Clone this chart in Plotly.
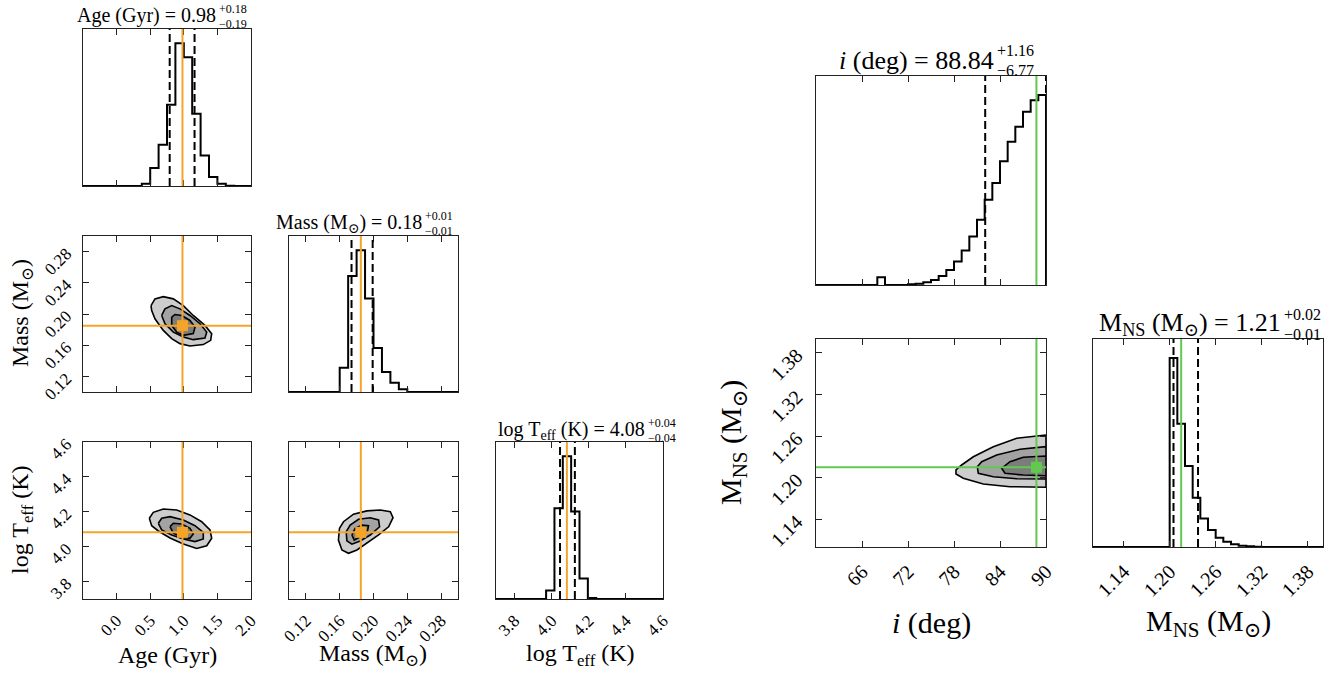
import numpy as np
import plotly.graph_objects as go

W, H = 1335, 675
FONT = "Liberation Serif, DejaVu Serif, serif"
ORANGE = "#f5a42a"
GREEN = "#62c94f"
FILLS = ["#cdcdcd", "#a3a3a3", "#7c7c7c"]

# ---------------- data ----------------
age_range = [-0.5, 2.0]
mass_range = [0.10, 0.30]
logt_range = [3.7, 4.6]
inc_range = [60.0, 90.0]
mns_range = [1.10, 1.40]

age_ticks = [0.0, 0.5, 1.0, 1.5, 2.0]
age_ticklabels = ["0.0", "0.5", "1.0", "1.5", "2.0"]
mass_ticks = [0.12, 0.16, 0.20, 0.24, 0.28]
mass_ticklabels = ["0.12", "0.16", "0.20", "0.24", "0.28"]
logt_ticks = [3.8, 4.0, 4.2, 4.4, 4.6]
logt_ticklabels = ["3.8", "4.0", "4.2", "4.4", "4.6"]
inc_ticks = [66, 72, 78, 84, 90]
inc_ticklabels = ["66", "72", "78", "84", "90"]
mns_ticks = [1.14, 1.20, 1.26, 1.32, 1.38]
mns_ticklabels = ["1.14", "1.20", "1.26", "1.32", "1.38"]

# histogram heights (20 / 30 equal bins across each axis range)
age_counts = [0, 0, 0, 0, 0, 0, 0, 7, 54, 124, 244, 429, 387, 217, 92, 27, 7, 1, 0, 0]
mass_counts = [0, 0, 0, 0, 0, 0, 73, 350, 428, 282, 133, 60, 28, 8, 0, 0, 0, 0, 0, 0]
logt_counts = [0, 0, 0, 0, 0, 0, 25, 271, 426, 261, 61, 3, 0, 0, 0, 0, 0, 0, 0, 0]
inc_counts = [0, 0, 0, 0, 0, 0, 0, 0, 23, 0, 0, 0, 2, 4, 8, 15, 27, 45, 70, 103,
              145, 195, 255, 305, 370, 428, 473, 518, 552, 568]
mns_counts = [0, 0, 0, 0, 0, 0, 0, 0, 0, 0, 569, 371, 244, 148, 86, 51, 28, 16, 8, 4,
              2, 1, 0, 0, 0, 0, 0, 0, 0, 0]

# quantiles (16%, 84%) and truth / median values
age_q = [0.79, 1.16]
mass_q = [0.174, 0.199]
logt_q = [4.045, 4.125]
inc_q = [82.07, 90.0]
mns_q = [1.205, 1.237]
age_truth = 0.98
mass_truth = 0.185
logt_truth = 4.082
inc_truth = 88.75
mns_truth = 1.215

# contour outlines (outer, middle, inner)
am_age = [
    [0.512, 0.571, 0.695, 0.844, 0.993, 1.141, 1.315, 1.415, 1.400, 1.290, 1.092, 0.943, 0.820, 0.695, 0.571, 0.522],
    [0.671, 0.720, 0.820, 0.943, 1.092, 1.241, 1.341, 1.315, 1.141, 0.993, 0.844, 0.720],
    [0.820, 0.869, 0.969, 1.092, 1.167, 1.141, 0.993, 0.894, 0.820],
]
am_mass = [
    [0.2108, 0.2194, 0.2223, 0.2194, 0.2108, 0.1981, 0.1854, 0.1748, 0.1662, 0.1608, 0.1590, 0.1620, 0.1684, 0.1790, 0.1939, 0.2045],
    [0.1981, 0.2066, 0.2108, 0.2066, 0.1981, 0.1875, 0.1768, 0.1692, 0.1671, 0.1704, 0.1768, 0.1875],
    [0.1960, 0.1994, 0.1981, 0.1917, 0.1832, 0.1748, 0.1726, 0.1768, 0.1854],
]
at_age = [
    [0.487, 0.546, 0.695, 0.894, 1.092, 1.266, 1.390, 1.415, 1.341, 1.192, 0.993, 0.795, 0.621, 0.522],
    [0.621, 0.671, 0.795, 0.993, 1.167, 1.290, 1.290, 1.167, 0.993, 0.820, 0.671],
    [0.795, 0.844, 0.969, 1.092, 1.141, 1.092, 0.969, 0.844],
]
at_logt = [
    [4.163, 4.197, 4.216, 4.210, 4.182, 4.143, 4.096, 4.048, 4.005, 3.990, 4.015, 4.050, 4.090, 4.120],
    [4.134, 4.163, 4.172, 4.153, 4.120, 4.082, 4.044, 4.029, 4.044, 4.067, 4.096],
    [4.115, 4.134, 4.130, 4.105, 4.073, 4.048, 4.054, 4.077],
]
mt_mass = [
    [0.1597, 0.1645, 0.1763, 0.1922, 0.2080, 0.2199, 0.2231, 0.2179, 0.2060, 0.1922, 0.1804, 0.1704, 0.1626, 0.1585],
    [0.1677, 0.1724, 0.1823, 0.1961, 0.2060, 0.2072, 0.1961, 0.1843, 0.1744, 0.1685],
    [0.1744, 0.1783, 0.1863, 0.1941, 0.1929, 0.1843, 0.1772],
]
mt_logt = [
    [4.105, 4.143, 4.186, 4.205, 4.210, 4.200, 4.166, 4.114, 4.067, 4.019, 3.981, 3.962, 3.981, 4.038],
    [4.086, 4.124, 4.157, 4.166, 4.153, 4.114, 4.067, 4.033, 4.014, 4.033],
    [4.067, 4.105, 4.124, 4.120, 4.090, 4.057, 4.038],
]
im_inc = [
    [90.0, 86.18, 83.13, 80.52, 79.00, 78.26, 78.26, 79.21, 81.82, 85.30, 90.0],
    [90.0, 86.61, 83.57, 81.61, 81.04, 81.17, 83.13, 86.18, 90.0],
    [90.0, 87.04, 85.30, 84.22, 84.65, 87.04, 90.0],
]
im_mns = [
    [1.2615, 1.2568, 1.2447, 1.2302, 1.2183, 1.2111, 1.2053, 1.1991, 1.1909, 1.1870, 1.1861],
    [1.2447, 1.2409, 1.2327, 1.2230, 1.2158, 1.2063, 1.2014, 1.1985, 1.1981],
    [1.2312, 1.2294, 1.2230, 1.2135, 1.2063, 1.2038, 1.2028],
]

# ---------------- layout helpers ----------------
def fx(px):
    return px / W


def fy(py):
    return 1 - py / H


def sfx(n):
    return "" if n == 1 else str(n)


fig = go.Figure()
layout = dict(width=W, height=H, margin=dict(l=0, r=0, t=0, b=0, pad=0, autoexpand=False),
              paper_bgcolor="white", plot_bgcolor="white", showlegend=False)
shapes = []
annotations = []

AXC = "#222222"


def base_axis(tick_size):
    return dict(showline=True, linecolor=AXC, linewidth=1.3, mirror="ticks",
                ticks="inside", ticklen=6, tickwidth=1.2, tickcolor=AXC,
                showgrid=False, zeroline=False, tickangle=-45, automargin=False,
                tickfont=dict(family=FONT, size=tick_size, color="black"))


def add_panel(n, xdom, ydom, xrange, xticks, xlabels, show_xlabels,
              yrange=None, yticks=None, ylabels=None, show_ylabels=False,
              hist=False, tick_size=17, ystand=12):
    xa = base_axis(tick_size)
    xa.update(domain=[fx(xdom[0]), fx(xdom[1])], anchor="y" + sfx(n),
              range=xrange, tickvals=xticks, ticktext=xlabels,
              showticklabels=show_xlabels, ticklabelstandoff=4)
    ya = base_axis(tick_size)
    ya.update(domain=[fy(ydom[1]), fy(ydom[0])], anchor="x" + sfx(n), range=yrange)
    if hist:
        ya.update(ticks="", showticklabels=False, mirror=True)
    else:
        ya.update(tickvals=yticks, ticktext=ylabels, showticklabels=show_ylabels,
                  ticklabelstandoff=ystand)
    layout["xaxis" + sfx(n)] = xa
    layout["yaxis" + sfx(n)] = ya


def add_hist(n, counts, rng, q, truth, color):
    edges = np.linspace(rng[0], rng[1], len(counts) + 1)
    xs = [edges[0]] + list(edges[:-1]) + [edges[-1]]
    ys = [0] + list(counts) + [0]
    fig.add_trace(go.Scatter(x=xs, y=ys, mode="lines", line=dict(color="black", width=2, shape="hv"),
                             xaxis="x" + sfx(n), yaxis="y" + sfx(n), hoverinfo="skip"))
    layout["yaxis" + sfx(n)]["range"] = [0, 1.1 * max(counts)]
    for v in q:
        shapes.append(dict(type="line", xref="x" + sfx(n), yref="y" + sfx(n) + " domain",
                           x0=v, x1=v, y0=0, y1=1, line=dict(color="black", width=2, dash="8px,4px")))
    shapes.append(dict(type="line", xref="x" + sfx(n), yref="y" + sfx(n) + " domain",
                       x0=truth, x1=truth, y0=0, y1=1, line=dict(color=color, width=2)))


def add_contours(n, xs_list, ys_list, tx, ty, color):
    for xs, ys, fc in zip(xs_list, ys_list, FILLS):
        fig.add_trace(go.Scatter(x=xs + [xs[0]], y=ys + [ys[0]], mode="lines", fill="toself",
                                 fillcolor=fc, line=dict(color="black", width=1.6),
                                 xaxis="x" + sfx(n), yaxis="y" + sfx(n), hoverinfo="skip"))
    shapes.append(dict(type="line", xref="x" + sfx(n), yref="y" + sfx(n) + " domain",
                       x0=tx, x1=tx, y0=0, y1=1, line=dict(color=color, width=2)))
    shapes.append(dict(type="line", xref="x" + sfx(n) + " domain", yref="y" + sfx(n),
                       x0=0, x1=1, y0=ty, y1=ty, line=dict(color=color, width=2)))
    fig.add_trace(go.Scatter(x=[tx], y=[ty], mode="markers",
                             marker=dict(symbol="square", size=11, color=color,
                                         line=dict(width=0)),
                             xaxis="x" + sfx(n), yaxis="y" + sfx(n), hoverinfo="skip"))


# panel pixel boxes
LC = [(83, 251), (289, 458), (496, 663)]
LR = [(29, 186), (236, 392), (442, 599)]
RC = [(816, 1046), (1093, 1323)]
RR = [(76, 285), (339, 547)]

add_panel(1, LC[0], LR[0], age_range, age_ticks, age_ticklabels, False, hist=True)
add_panel(2, LC[0], LR[1], age_range, age_ticks, age_ticklabels, False,
          mass_range, mass_ticks, mass_ticklabels, True)
add_panel(3, LC[1], LR[1], mass_range, mass_ticks, mass_ticklabels, False, hist=True)
add_panel(4, LC[0], LR[2], age_range, age_ticks, age_ticklabels, True,
          logt_range, logt_ticks, logt_ticklabels, True)
add_panel(5, LC[1], LR[2], mass_range, mass_ticks, mass_ticklabels, True,
          logt_range, logt_ticks, logt_ticklabels, False)
add_panel(6, LC[2], LR[2], logt_range, logt_ticks, logt_ticklabels, True, hist=True)
add_panel(7, RC[0], RR[0], inc_range, inc_ticks, inc_ticklabels, False, hist=True, tick_size=20)
add_panel(8, RC[0], RR[1], inc_range, inc_ticks, inc_ticklabels, True,
          mns_range, mns_ticks, mns_ticklabels, True, tick_size=20, ystand=14)
add_panel(9, RC[1], RR[1], mns_range, mns_ticks, mns_ticklabels, True, hist=True, tick_size=20)

add_hist(1, age_counts, age_range, age_q, age_truth, ORANGE)
add_hist(3, mass_counts, mass_range, mass_q, mass_truth, ORANGE)
add_hist(6, logt_counts, logt_range, logt_q, logt_truth, ORANGE)
add_hist(7, inc_counts, inc_range, inc_q, inc_truth, GREEN)
add_hist(9, mns_counts, mns_range, mns_q, mns_truth, GREEN)

add_contours(2, am_age, am_mass, age_truth, mass_truth, ORANGE)
add_contours(4, at_age, at_logt, age_truth, logt_truth, ORANGE)
add_contours(5, mt_mass, mt_logt, mass_truth, logt_truth, ORANGE)
add_contours(8, im_inc, im_mns, inc_truth, mns_truth, GREEN)


def text(px, py, s, size, xanchor="center", angle=0):
    annotations.append(dict(x=fx(px), y=fy(py), xref="paper", yref="paper", text=s,
                            showarrow=False, xanchor=xanchor, yanchor="middle",
                            textangle=angle, borderpad=0,
                            font=dict(family=FONT, size=size, color="black")))


def title(px_split, py, main, up, lo, size, ssize, dy):
    text(px_split, py, main, size, xanchor="right")
    text(px_split + 1, py - dy, up, ssize, xanchor="left")
    text(px_split + 1, py + dy, lo, ssize, xanchor="left")


title(217, 16, "Age (Gyr) = 0.98", "+0.18", "\u22120.19", 20, 12, 7.5)
title(423, 223, "Mass (M<sub>\u2299</sub>) = 0.18", "+0.01", "\u22120.01", 20, 12, 7.5)
title(646, 430, "log T<sub>eff</sub> (K) = 4.08", "+0.04", "\u22120.04", 20, 12, 7.5)
title(995, 60, "<i>i</i> (deg) = 88.84", "+1.16", "\u22126.77", 26, 16, 10)
title(1282, 324, "M<sub>NS</sub> (M<sub>\u2299</sub>) = 1.21", "+0.02", "\u22120.01", 26, 16, 10)

# axis labels
text(167, 655, "Age (Gyr)", 24)
text(373, 655, "Mass (M<sub>\u2299</sub>)", 24)
text(580, 655, "log T<sub>eff</sub> (K)", 24)
text(22, 313, "Mass (M<sub>\u2299</sub>)", 24, angle=-90)
text(22, 520, "log T<sub>eff</sub> (K)", 24, angle=-90)
text(931, 623, "<i>i</i> (deg)", 30)
text(1208, 623, "M<sub>NS</sub> (M<sub>\u2299</sub>)", 30)
text(733, 443, "M<sub>NS</sub> (M<sub>\u2299</sub>)", 30, angle=-90)

layout["shapes"] = shapes
layout["annotations"] = annotations
fig.update_layout(**layout)
fig.write_html("out.html")
